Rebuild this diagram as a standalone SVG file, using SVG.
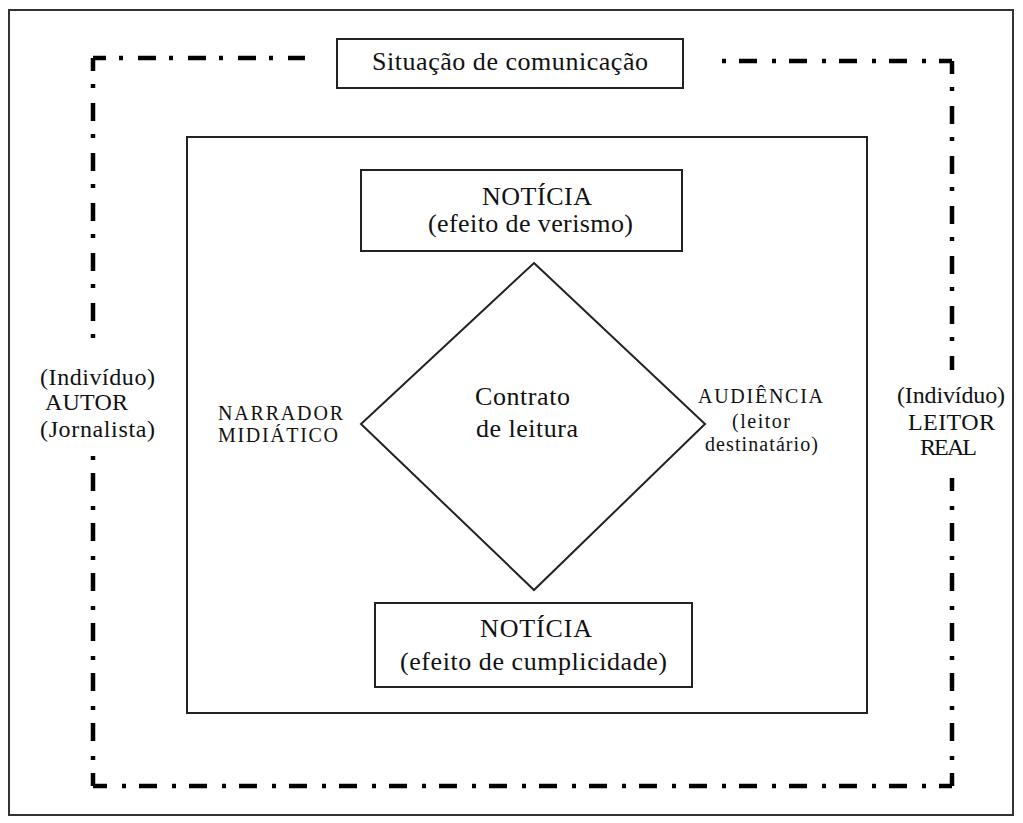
<svg xmlns="http://www.w3.org/2000/svg" width="1023" height="823" viewBox="0 0 1023 823">
<style>
.box{fill:#fff;stroke:#222;stroke-width:2}
.frame{fill:none;stroke:#000;stroke-width:4.5;stroke-dasharray:18 13 4 15;stroke-dashoffset:5}
text{font-family:"Liberation Serif","Times New Roman",serif;fill:#111}
.big{font-size:26px}
.mid{font-size:24px}
.sm{font-size:20px}
</style>
<rect x="0" y="0" width="1023" height="823" fill="#fff"/>
<rect id="outer-border" x="9" y="10" width="1004" height="805" fill="none" stroke="#333" stroke-width="2"/>
<g id="connectors">
  <path class="frame" d="M93,58 L305,58"/>
  <path class="frame" d="M93,58 L93,346"/>
  <path class="frame" d="M952,61 L713,61"/>
  <path class="frame" d="M952,61 L952,370"/>
  <path class="frame" d="M952,786 L952,478"/>
  <path class="frame" d="M952,786 L93,786"/>
  <path class="frame" d="M93,786 L93,443"/>
</g>
<g id="situacao">
  <rect class="box" x="337" y="39" width="346" height="49"/>
  <text class="big" x="372" y="70" textLength="276" lengthAdjust="spacing">Situação de comunicação</text>
</g>
<g id="inner-frame">
  <rect class="box" x="187" y="137" width="680" height="576" fill="none"/>
</g>
<g id="noticia-verismo">
  <rect class="box" x="361" y="170" width="321" height="81"/>
  <text class="big" x="482" y="205" textLength="110" lengthAdjust="spacing">NOTÍCIA</text>
  <text class="big" x="428" y="232" textLength="205" lengthAdjust="spacing">(efeito de verismo)</text>
</g>
<g id="contrato">
  <polygon points="534,263 705,424 534,590 361,424" fill="#fff" stroke="#222" stroke-width="2"/>
  <text class="big" x="475" y="405" textLength="95" lengthAdjust="spacing">Contrato</text>
  <text class="big" x="476" y="437" textLength="102" lengthAdjust="spacing">de leitura</text>
</g>
<g id="noticia-cumplicidade">
  <rect class="box" x="375" y="603" width="317" height="84"/>
  <text class="big" x="480" y="637" textLength="112" lengthAdjust="spacing">NOTÍCIA</text>
  <text class="big" x="400" y="670" textLength="267" lengthAdjust="spacing">(efeito de cumplicidade)</text>
</g>
<g id="narrador">
  <text class="sm" x="218" y="420" textLength="125" lengthAdjust="spacing">NARRADOR</text>
  <text class="sm" x="218" y="442" textLength="120" lengthAdjust="spacing">MIDIÁTICO</text>
</g>
<g id="audiencia">
  <text class="sm" x="698" y="403" textLength="125" lengthAdjust="spacing">AUDIÊNCIA</text>
  <text class="sm" x="732" y="428" textLength="58" lengthAdjust="spacing">(leitor</text>
  <text class="sm" x="705" y="451" textLength="113" lengthAdjust="spacing">destinatário)</text>
</g>
<g id="autor">
  <text class="mid" x="40" y="385" textLength="115" lengthAdjust="spacing">(Indivíduo)</text>
  <text class="mid" x="45" y="410" textLength="83" lengthAdjust="spacing">AUTOR</text>
  <text class="mid" x="40" y="437" textLength="115" lengthAdjust="spacing">(Jornalista)</text>
</g>
<g id="leitor-real">
  <text class="mid" x="897" y="403" textLength="108" lengthAdjust="spacing">(Indivíduo)</text>
  <text class="mid" x="908" y="430" textLength="87" lengthAdjust="spacing">LEITOR</text>
  <text class="mid" x="920" y="455" textLength="57" lengthAdjust="spacing">REAL</text>
</g>
</svg>
